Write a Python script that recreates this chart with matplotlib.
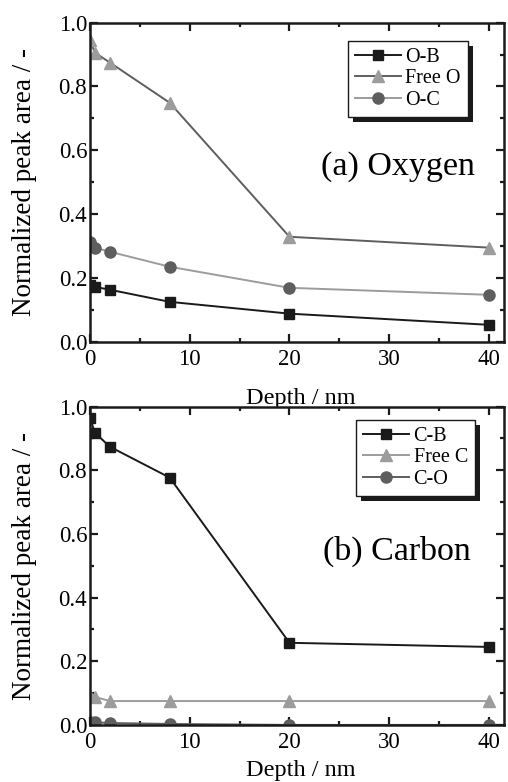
import numpy as np
import matplotlib.pyplot as plt
from matplotlib.ticker import MultipleLocator
from matplotlib.patches import Rectangle
from matplotlib.transforms import IdentityTransform

plt.rcParams.update({'font.family': 'Liberation Serif', 'font.size': 14})

depth = [0, 0.5, 2, 8, 20, 40]

# (a) Oxygen
o_b = [0.179, 0.172, 0.163, 0.125, 0.088, 0.053]
free_o = [0.945, 0.906, 0.875, 0.749, 0.329, 0.295]
o_c = [0.314, 0.295, 0.282, 0.235, 0.169, 0.147]

# (b) Carbon
c_b = [0.965, 0.918, 0.874, 0.777, 0.258, 0.245]
free_c = [0.090, 0.088, 0.075, 0.075, 0.075, 0.075]
c_o = [0.010, 0.008, 0.006, 0.003, 0.0, 0.0]

fig = plt.figure(figsize=(5.08, 7.82), dpi=100)
ax1 = fig.add_axes([0.177, 0.563, 0.815, 0.408])
ax2 = fig.add_axes([0.177, 0.073, 0.815, 0.407])

black = '#1a1a1a'
dgrey = '#5e5e5e'
lgrey = '#9c9c9c'

ax1.plot(depth, o_b, color=black, lw=1.4, marker='s', ms=7, mfc=black, mec=black, label='O-B')
ax1.plot(depth, free_o, color=dgrey, lw=1.4, marker='^', ms=9, mfc=lgrey, mec=lgrey, label='Free O')
ax1.plot(depth, o_c, color=lgrey, lw=1.4, marker='o', ms=8, mfc=dgrey, mec=dgrey, label='O-C')
ax1.text(30.9, 0.55, '(a) Oxygen', fontsize=24.5, ha='center', va='center')

ax2.plot(depth, c_b, color=black, lw=1.4, marker='s', ms=7, mfc=black, mec=black, label='C-B')
ax2.plot(depth, free_c, color=lgrey, lw=1.4, marker='^', ms=9, mfc=lgrey, mec=lgrey, label='Free C')
ax2.plot(depth, c_o, color=dgrey, lw=1.4, marker='o', ms=8, mfc=dgrey, mec=dgrey, label='C-O')
ax2.text(30.8, 0.545, '(b) Carbon', fontsize=24.5, ha='center', va='center')

legends = []
for ax, loc, xl_y in ((ax1, (0.623, 0.705), -0.144), (ax2, (0.643, 0.72), -0.110)):
    ax.set_xlim(0, 41.5)
    ax.set_ylim(0, 1.0)
    ax.xaxis.set_major_locator(MultipleLocator(10))
    ax.xaxis.set_minor_locator(MultipleLocator(5))
    ax.yaxis.set_major_locator(MultipleLocator(0.2))
    ax.yaxis.set_minor_locator(MultipleLocator(0.1))
    ax.yaxis.set_major_formatter(plt.FuncFormatter(lambda v, p: f'{v:.1f}'))
    ax.tick_params(which='both', direction='in', top=True, right=True, width=1.6, color=black)
    ax.tick_params(which='major', length=5.5, labelsize=16.5, pad=2)
    ax.tick_params(axis='x', which='major', pad=5)
    ax.tick_params(which='minor', length=3)
    for s in ax.spines.values():
        s.set_linewidth(1.8)
        s.set_color(black)
    ax.set_xlabel('Depth / nm', fontsize=17.5)
    ax.xaxis.set_label_coords(0.51, xl_y)
    ax.set_ylabel('Normalized peak area / -', fontsize=19.5, va='center')
    ax.yaxis.set_label_coords(-0.157, 0.5)
    leg = ax.legend(loc='lower left', bbox_to_anchor=loc, fontsize=14.5, fancybox=False,
                    edgecolor=black, framealpha=1, handlelength=2.3, borderpad=0.35,
                    labelspacing=0.12, handletextpad=0.2, borderaxespad=0)
    leg.get_frame().set_linewidth(1.0)
    legends.append((ax, leg))

# hard drop shadow behind each legend box
fig.canvas.draw()
for ax, leg in legends:
    bb = leg.get_window_extent()
    ax.add_patch(Rectangle((bb.x0 + 5, bb.y0 - 5), bb.width, bb.height,
                           transform=IdentityTransform(), facecolor=black,
                           edgecolor='none', zorder=4.9, clip_on=False))

fig.savefig('out.png', dpi=100)
